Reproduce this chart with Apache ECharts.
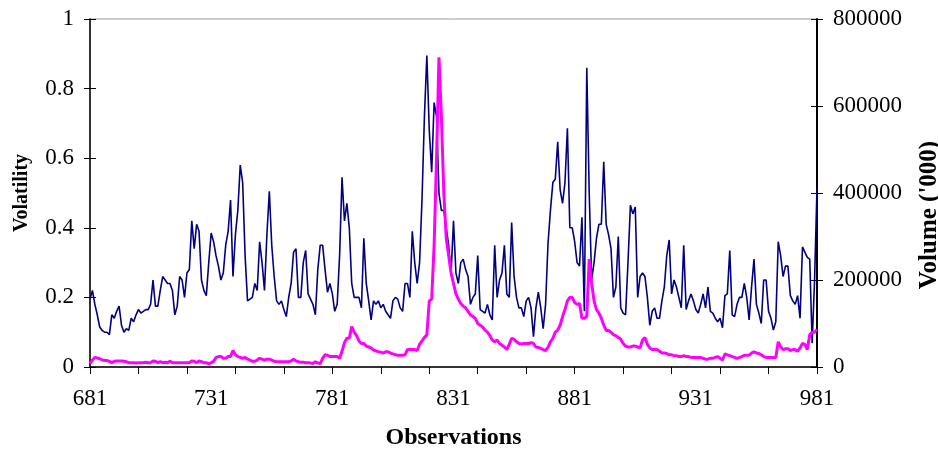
<!DOCTYPE html>
<html>
<head>
<meta charset="utf-8">
<script src="https://cdn.jsdelivr.net/npm/echarts@6/dist/echarts.min.js"></script>
<style>
  html, body { margin: 0; padding: 0; background: #fff; }
  #chart { width: 938px; height: 452px; }
</style>
</head>
<body>
<div id="chart"></div>
<script>
// observation numbers 681..981
var firstObs = 681, lastObs = 981;
var observations = [];
for (var n = firstObs; n <= lastObs; n++) observations.push(String(n));

// volatility (left axis), navy line
var volatility = [
  0.195, 0.22, 0.18, 0.15, 0.115, 0.105, 0.1, 0.1, 0.093, 0.15,
  0.14, 0.16, 0.175, 0.12, 0.1, 0.11, 0.105, 0.14, 0.13, 0.15,
  0.165, 0.155, 0.16, 0.165, 0.165, 0.18, 0.25, 0.175, 0.175, 0.22,
  0.26, 0.25, 0.24, 0.24, 0.22, 0.15, 0.175, 0.26, 0.25, 0.2,
  0.27, 0.28, 0.42, 0.34, 0.41, 0.39, 0.25, 0.22, 0.205, 0.3,
  0.385, 0.36, 0.32, 0.29, 0.25, 0.27, 0.35, 0.39, 0.48, 0.26,
  0.38, 0.45, 0.58, 0.53, 0.32, 0.19, 0.195, 0.2, 0.24, 0.22,
  0.36, 0.3, 0.22, 0.38, 0.505, 0.35, 0.26, 0.19, 0.18, 0.19,
  0.165, 0.145, 0.2, 0.24, 0.33, 0.34, 0.2, 0.2, 0.3, 0.335,
  0.21, 0.195, 0.18, 0.15, 0.28, 0.35, 0.35, 0.28, 0.215, 0.24,
  0.21, 0.16, 0.18, 0.32, 0.545, 0.42, 0.47, 0.4, 0.24, 0.2,
  0.2, 0.2, 0.17, 0.37, 0.24, 0.19, 0.135, 0.19, 0.18, 0.19,
  0.17, 0.18, 0.16, 0.15, 0.14, 0.19, 0.2, 0.195, 0.17, 0.16,
  0.24, 0.24, 0.2, 0.39, 0.3, 0.24, 0.3, 0.48, 0.72, 0.895,
  0.68, 0.56, 0.76, 0.72, 0.5, 0.45, 0.45, 0.4, 0.35, 0.27,
  0.42, 0.27, 0.24, 0.3, 0.31, 0.28, 0.26, 0.18, 0.2, 0.21,
  0.32, 0.165, 0.16, 0.155, 0.18, 0.15, 0.135, 0.35, 0.2, 0.25,
  0.27, 0.35, 0.21, 0.2, 0.415, 0.26, 0.2, 0.17, 0.17, 0.145,
  0.19, 0.2, 0.17, 0.087, 0.17, 0.215, 0.17, 0.11, 0.18, 0.355,
  0.45, 0.53, 0.54, 0.647, 0.51, 0.47, 0.53, 0.686, 0.4, 0.4,
  0.36, 0.3, 0.29, 0.43, 0.16, 0.86, 0.5, 0.25, 0.3, 0.37,
  0.41, 0.41, 0.59, 0.41, 0.38, 0.34, 0.2, 0.23, 0.375, 0.17,
  0.155, 0.15, 0.3, 0.465, 0.44, 0.46, 0.2, 0.26, 0.27, 0.26,
  0.2, 0.12, 0.16, 0.17, 0.14, 0.14, 0.19, 0.23, 0.32, 0.365,
  0.21, 0.25, 0.23, 0.2, 0.17, 0.35, 0.165, 0.19, 0.21, 0.19,
  0.165, 0.155, 0.18, 0.21, 0.17, 0.23, 0.16, 0.155, 0.14, 0.13,
  0.14, 0.113, 0.205, 0.21, 0.335, 0.15, 0.145, 0.18, 0.2, 0.2,
  0.24, 0.2, 0.135, 0.23, 0.31, 0.18, 0.155, 0.125, 0.25, 0.25,
  0.16, 0.14, 0.106, 0.13, 0.36, 0.32, 0.26, 0.29, 0.29, 0.205,
  0.19, 0.18, 0.205, 0.14, 0.345, 0.33, 0.315, 0.31, 0.068, 0.25,
  0.515
];

// volume in '000 (right axis), magenta line
var volume = [
  8000, 16000, 22000, 21000, 19000, 16000, 15000, 15000, 13000, 10000,
  13000, 14000, 14000, 14000, 13000, 12000, 10000, 10000, 10000, 9000,
  10000, 10000, 10000, 11000, 10000, 10000, 14000, 13000, 10000, 12000,
  10000, 11000, 10000, 13000, 10000, 10000, 10000, 10000, 10000, 10000,
  10000, 10000, 14000, 13000, 10000, 14000, 12000, 10000, 10000, 7000,
  10000, 13000, 22000, 24000, 24000, 20000, 20000, 24000, 24000, 38000,
  28000, 24000, 22000, 20000, 22000, 18000, 16000, 13000, 13000, 16000,
  20000, 18000, 16000, 18000, 18000, 16000, 13000, 12000, 12000, 12000,
  12000, 12000, 12000, 14000, 18000, 14000, 12000, 11000, 11000, 10000,
  10000, 9000, 8000, 12000, 9000, 8000, 20000, 28000, 27000, 24000,
  24000, 24000, 24000, 20000, 36000, 56000, 66000, 66000, 93000, 80000,
  72000, 60000, 54000, 54000, 48000, 46000, 44000, 39000, 37000, 35000,
  34000, 32000, 35000, 35000, 32000, 30000, 28000, 27000, 27000, 27000,
  28000, 40000, 40000, 40000, 40000, 38000, 52000, 60000, 68000, 74000,
  152000, 156000, 280000, 480000, 712000, 576000, 400000, 296000, 256000, 216000,
  192000, 168000, 156000, 146000, 140000, 136000, 128000, 120000, 116000, 112000,
  100000, 96000, 92000, 85000, 80000, 72000, 62000, 58000, 62000, 54000,
  50000, 46000, 40000, 52000, 66000, 64000, 58000, 54000, 53000, 54000,
  54000, 54000, 56000, 54000, 46000, 45000, 43000, 40000, 38000, 45000,
  58000, 66000, 80000, 85000, 96000, 116000, 132000, 152000, 160000, 160000,
  148000, 144000, 146000, 112000, 112000, 116000, 248000, 192000, 152000, 132000,
  124000, 112000, 96000, 84000, 84000, 80000, 74000, 72000, 68000, 64000,
  54000, 48000, 46000, 46000, 48000, 48000, 46000, 44000, 62000, 68000,
  52000, 44000, 40000, 40000, 40000, 36000, 32000, 32000, 31000, 28000,
  28000, 26000, 26000, 24000, 24000, 26000, 24000, 24000, 22000, 22000,
  22000, 22000, 22000, 20000, 18000, 18000, 20000, 20000, 22000, 24000,
  20000, 16000, 30000, 28000, 26000, 24000, 22000, 20000, 22000, 24000,
  27000, 27000, 27000, 32000, 35000, 32000, 31000, 28000, 24000, 22000,
  22000, 22000, 22000, 22000, 58000, 46000, 40000, 42000, 42000, 38000,
  40000, 40000, 36000, 44000, 54000, 52000, 40000, 74000, 80000, 80000,
  86000
];

var chart = echarts.init(document.getElementById('chart'), null, { renderer: 'canvas' });

var serif = '"Liberation Serif", "DejaVu Serif", serif';
var labelFont = { fontFamily: serif, fontSize: 23, color: '#000' };

// a copy of a value axis that only draws inward ticks, so ticks cross the axis line
function innerTicks(base) {
  return {
    type: 'value',
    min: base.min, max: base.max, interval: base.interval,
    position: base.position,
    axisLine: { show: false },
    axisTick: { show: true, inside: true, length: 6, lineStyle: { color: '#000' } },
    axisLabel: { show: false },
    splitLine: { show: false }
  };
}

var volAxis = {
  type: 'value',
  min: 0, max: 1, interval: 0.2,
  position: 'left',
  name: 'Volatility',
  nameLocation: 'middle',
  nameRotate: 90,
  nameGap: 58,
  nameTextStyle: { fontFamily: serif, fontWeight: 'bold', fontSize: 20, color: '#000' },
  axisLine: { show: true, lineStyle: { color: '#000', width: 1.5 } },
  axisTick: { show: true, length: 6, lineStyle: { color: '#000' } },
  axisLabel: Object.assign({ margin: 16 }, labelFont),
  splitLine: { show: false }
};

var volumeAxis = {
  type: 'value',
  min: 0, max: 800000, interval: 200000,
  position: 'right',
  name: "Volume ('000)",
  nameLocation: 'middle',
  nameRotate: 90,
  nameGap: 100,
  nameTextStyle: {
    fontFamily: serif, fontWeight: 'bold', fontSize: 25, color: '#000',
    padding: [0, 44, 0, 0]
  },
  axisLine: { show: true, lineStyle: { color: '#000', width: 2 } },
  axisTick: { show: true, length: 6, lineStyle: { color: '#000' } },
  axisLabel: Object.assign({ margin: 16, formatter: function (v) { return String(v); } }, labelFont),
  splitLine: { show: false }
};

var option = {
  backgroundColor: '#ffffff',
  animation: false,
  grid: {
    left: 90,
    right: 121,
    top: 19,
    bottom: 85,
    show: true,
    borderColor: '#9a9a9a',
    borderWidth: 1,
    outerBoundsMode: 'none'
  },
  xAxis: {
    type: 'category',
    data: observations,
    boundaryGap: false,
    name: 'Observations',
    nameLocation: 'middle',
    nameGap: 59,
    nameTextStyle: { fontFamily: serif, fontWeight: 'bold', fontSize: 24, color: '#000' },
    axisLine: { lineStyle: { color: '#000', width: 1.5 } },
    axisTick: {
      length: 7,
      interval: function (idx) { return idx % 20 === 0; },
      lineStyle: { color: '#000' }
    },
    axisLabel: Object.assign({
      interval: function (idx) { return idx % 50 === 0; },
      margin: 20
    }, labelFont),
    splitLine: { show: false }
  },
  yAxis: [volAxis, volumeAxis, innerTicks(volAxis), innerTicks(volumeAxis)],
  series: [
    {
      name: 'Volatility',
      type: 'line',
      yAxisIndex: 0,
      data: volatility,
      showSymbol: false,
      lineStyle: { color: '#000080', width: 1.6 },
      itemStyle: { color: '#000080' }
    },
    {
      name: 'Volume',
      type: 'line',
      yAxisIndex: 1,
      data: volume,
      showSymbol: false,
      lineStyle: { color: '#ff00ff', width: 3 },
      itemStyle: { color: '#ff00ff' }
    }
  ]
};

chart.setOption(option);
</script>
</body>
</html>
